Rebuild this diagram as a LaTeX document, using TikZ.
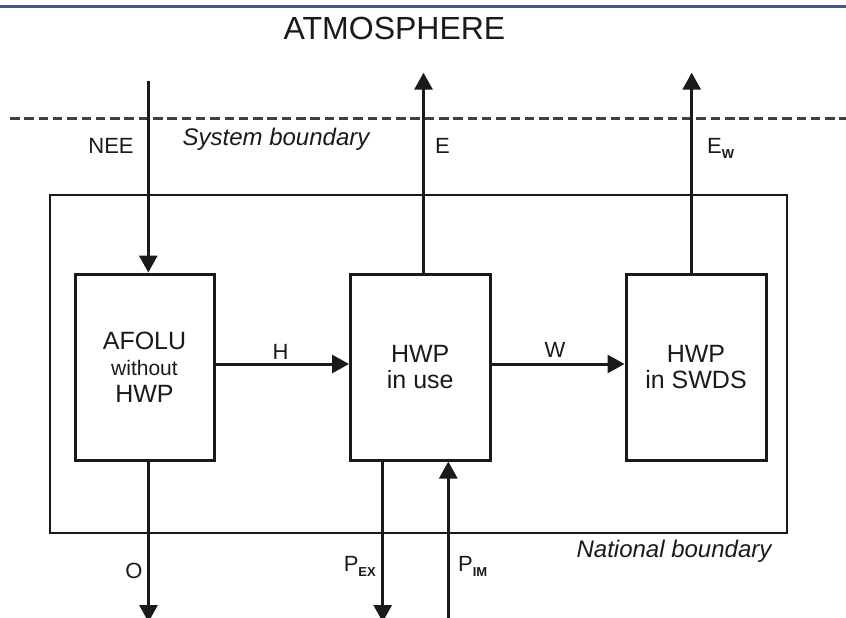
\documentclass[tikz,border=0pt]{standalone}
\usepackage{fontspec}
\setmainfont{Liberation Sans}
\usetikzlibrary{arrows.meta}
\definecolor{topblue}{HTML}{44597F}
\definecolor{dashgray}{HTML}{404040}
\definecolor{ink}{HTML}{1A1A1A}
\newcommand\lowsub[1]{\raisebox{-5pt}{\fontsize{13}{13}\selectfont\bfseries #1}}
\begin{document}
\begin{tikzpicture}[x=1pt,y=-1pt,
  box/.style={draw=ink, line width=3pt, minimum width=139pt, minimum height=186pt, inner sep=0pt, align=center, text=ink, font=\fontsize{25}{26.5}\selectfont},
  arr/.style={draw=ink, line width=3pt, -{Triangle[length=17pt,width=18pt]}},
  lbl/.style={inner sep=0pt, text=ink, font=\fontsize{22}{22}\selectfont},
  ital/.style={inner sep=0pt, text=ink, font=\fontsize{24}{24}\selectfont\itshape},
  natbox/.style={draw=ink, line width=2pt, inner sep=0pt, minimum width=736.7pt, minimum height=338pt}
]
\clip (0,0) rectangle (846,618);
\useasboundingbox (0,0) rectangle (846,618);
% top rule and system boundary
\coordinate (tl) at (0,6.3);
\coordinate (tr) at (846,6.3);
\draw[topblue, line width=3.5pt] (tl) -- (tr);
\coordinate (dl) at (10,118.3);
\coordinate (dr) at (846,118.3);
\draw[dashgray, line width=2.8pt, dash pattern=on 9.5pt off 4.8pt] (dl) -- (dr);
% national boundary
\node[natbox] (nat) at (418.35,364) {};
% boxes
\node[box] (afolu) at (144.5,367) {AFOLU\\{\fontsize{21}{21}\selectfont without}\\HWP};
\node[box, minimum width=139.5pt] (use) at (420.25,367) {HWP\\in use};
\node[box, minimum width=140pt] (swds) at (696,367) {HWP\\in SWDS};
% connectors
\coordinate (neetop) at (148.3,80.7);
\draw[arr] (neetop) -- (neetop |- afolu.north);
\coordinate (hy) at (0,364);
\draw[arr] (afolu.east |- hy) -- (use.west |- hy);
\draw[arr] (use.east |- hy) -- (swds.west |- hy);
\coordinate (etop) at (423.5,72.7);
\draw[arr] (etop |- use.north) -- (etop);
\coordinate (ewtop) at (691.7,72.7);
\draw[arr] (ewtop |- swds.north) -- (ewtop);
\coordinate (obot) at (148.5,622);
\draw[arr] (obot |- afolu.south) -- (obot);
\coordinate (pexbot) at (382.7,622);
\draw[arr] (pexbot |- use.south) -- (pexbot);
\coordinate (pimbot) at (448.3,622);
\draw[arr] (pimbot) -- (pimbot |- use.south);
% labels
\node[inner sep=0pt, text=ink, font=\fontsize{32}{32}\selectfont, anchor=base] (atm) at (394.5,40) {ATMOSPHERE};
\node[lbl, anchor=base] (nee) at (111,153) {NEE};
\node[ital, anchor=base] (sysb) at (276,145) {System boundary};
\node[lbl, anchor=base west] (elbl) at (435,153) {E};
\node[lbl, anchor=base west] (ewlbl) at (707,153) {E\lowsub{W}};
\node[lbl, anchor=base] (hlbl) at (280.5,359) {H};
\node[lbl, anchor=base] (wlbl) at (555,357) {W};
\node[lbl, anchor=base] (olbl) at (134,578) {O};
\node[lbl, anchor=base west] (pex) at (343.6,571) {P\lowsub{EX}};
\node[lbl, anchor=base west] (pim) at (458,571) {P\lowsub{IM}};
\node[ital, anchor=base] (natb) at (674,557) {National boundary};
\end{tikzpicture}
\end{document}
